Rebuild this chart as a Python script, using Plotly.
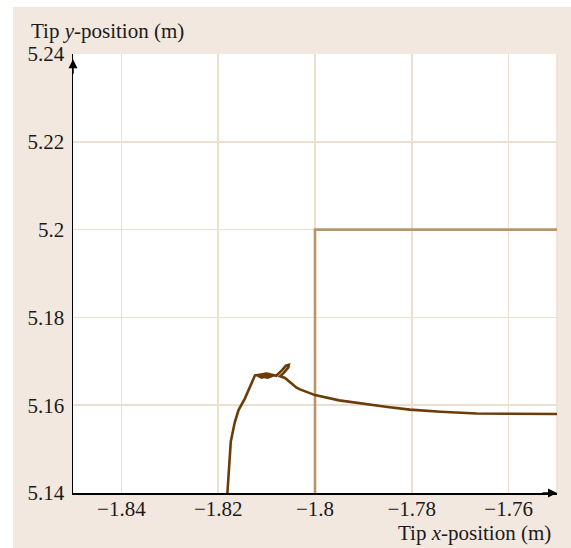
import plotly.graph_objects as go

# Target box (lower-right region)
box_x = [-1.80, -1.80, -1.75]
box_y = [5.14, 5.20, 5.20]

# Tip trajectory
traj_x = [-1.8181, -1.8176, -1.8174, -1.8166, -1.8158, -1.8145, -1.8135, -1.8124,
          -1.8105, -1.8090, -1.8110, -1.8118, -1.8100, -1.8085, -1.8098, -1.8112,
          -1.8095, -1.8080, -1.8068, -1.8060, -1.8054, -1.8055, -1.8065, -1.8072,
          -1.8062, -1.8050, -1.8038, -1.8031, -1.8000, -1.7950, -1.7907, -1.7850,
          -1.7804, -1.7740, -1.7666, -1.7600, -1.7500]
traj_y = [5.1400, 5.1470, 5.1517, 5.1560, 5.1589, 5.1615, 5.1640, 5.1668,
          5.1671, 5.1670, 5.1663, 5.1667, 5.1672, 5.1668, 5.1663, 5.1666,
          5.1671, 5.1667, 5.1680, 5.1690, 5.1692, 5.1686, 5.1673, 5.1666,
          5.1662, 5.1651, 5.1640, 5.1636, 5.1623, 5.1611, 5.1604, 5.1596,
          5.1590, 5.1585, 5.1581, 5.1580, 5.1580]

x_ticks = [-1.84, -1.82, -1.80, -1.78, -1.76]
x_tick_text = ["\u22121.84", "\u22121.82", "\u22121.8", "\u22121.78", "\u22121.76"]
y_ticks = [5.14, 5.16, 5.18, 5.20, 5.22, 5.24]
y_tick_text = ["5.14", "5.16", "5.18", "5.2", "5.22", "5.24"]

grid_c = "#ebdfcf"
bg_c = "#f2e8df"
font_f = "Liberation Serif"

fig = go.Figure()
fig.add_trace(go.Scatter(x=box_x, y=box_y, mode="lines",
                         line=dict(color="#b8956a", width=2.6), hoverinfo="skip"))
fig.add_trace(go.Scatter(x=traj_x, y=traj_y, mode="lines",
                         line=dict(color="#6b3c08", width=2.6),
                         hoverinfo="skip"))

fig.update_layout(
    width=571, height=548,
    margin=dict(l=73, r=14, t=54, b=55),
    paper_bgcolor=bg_c, plot_bgcolor="white",
    showlegend=False,
    font=dict(family=font_f, size=21, color="#1a1a1a"),
    xaxis=dict(range=[-1.85, -1.75], tickvals=x_ticks, ticktext=x_tick_text,
               showgrid=True, gridcolor=grid_c, gridwidth=1.5,
               showline=True, linecolor="black", linewidth=1.5,
               zeroline=False, ticks="", ticklabelstandoff=-4),
    yaxis=dict(range=[5.14, 5.24], tickvals=y_ticks, ticktext=y_tick_text,
               showgrid=True, gridcolor=grid_c, gridwidth=1.5,
               showline=True, linecolor="black", linewidth=1.5,
               zeroline=False, ticks="", ticklabelstandoff=3),
    shapes=[
        # white strips at the left and top edges of the page
        dict(type="rect", xref="paper", yref="paper", x0=-0.2, x1=-0.124, y0=-0.3, y1=1.3,
             fillcolor="white", line=dict(width=0), layer="below"),
        dict(type="rect", xref="paper", yref="paper", x0=-0.2, x1=1.2, y0=1.107, y1=1.3,
             fillcolor="white", line=dict(width=0), layer="below"),
        dict(type="line", xref="paper", yref="paper", x0=1, x1=1, y0=0, y1=1,
             line=dict(color=grid_c, width=1.5), layer="below"),
    ],
    annotations=[
        dict(xref="paper", yref="paper", x=-0.0909, y=1.052, xanchor="left", yanchor="middle",
             text="Tip <i>y</i>-position (m)", showarrow=False, font=dict(size=21)),
        dict(xref="paper", yref="paper", x=0.992, y=-0.091, xanchor="right", yanchor="middle",
             text="Tip <i>x</i>-position (m)", showarrow=False, font=dict(size=21)),
        dict(xref="paper", yref="paper", x=0, y=0.988, ax=0, ay=16, text="",
             showarrow=True, arrowhead=2, arrowsize=1.2, arrowwidth=1.5, arrowcolor="black"),
        dict(xref="paper", yref="paper", x=1, y=0, ax=-16, ay=0, text="",
             showarrow=True, arrowhead=2, arrowsize=1.2, arrowwidth=1.5, arrowcolor="black"),
    ],
)

fig.write_html("out.html",
               config={"displayModeBar": False, "staticPlot": True},
               post_script="document.body.style.margin='0';document.body.style.overflow='hidden';")
